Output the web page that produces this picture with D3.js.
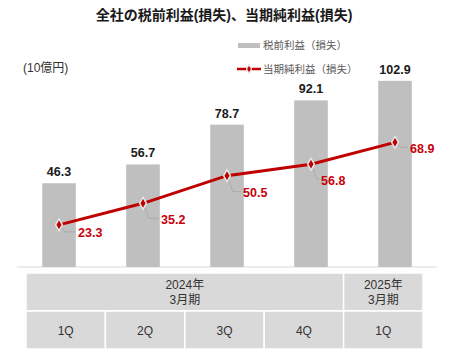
<!DOCTYPE html>
<html>
<head>
<meta charset="utf-8">
<script src="https://cdn.jsdelivr.net/npm/d3@7"></script>
<style>
  body { margin: 0; background: #fff; }
  svg { display: block; font-family: "Liberation Sans", "Noto Sans CJK JP", sans-serif; }
</style>
</head>
<body>
<script>
// --- data ---
const quarters = ["1Q", "2Q", "3Q", "4Q", "1Q "];
const pretaxProfit = [46.3, 56.7, 78.7, 92.1, 102.9];
const netProfit = [23.3, 35.2, 50.5, 56.8, 68.9];
const fiscalYears = ["2024年", "2025年"];
const fiscalSpan = [4, 1];
const legendNames = ["税前利益（損失）", "当期純利益（損失）"];

// label nudges for the red labels (layout only)
const nudge = [[19, 8], [18, 16], [16, 17], [10, 16], [15, 6]];

const width = 450, height = 352;
const svg = d3.select("body").append("svg")
  .attr("width", width)
  .attr("height", height);

const x = d3.scaleBand().domain(quarters).range([17, 437]).paddingInner(0.6).paddingOuter(0.3);
const y = d3.scaleLinear().domain([0, 110]).range([267, 68]);
const cx = i => x(quarters[i]) + x.bandwidth() / 2;

// title
svg.append("text")
  .attr("x", 224).attr("y", 20)
  .attr("text-anchor", "middle")
  .attr("font-size", 14).attr("font-weight", "bold")
  .attr("fill", "#1a1a1a")
  .text("全社の税前利益(損失)、当期純利益(損失)");

// unit
svg.append("text")
  .attr("x", 23).attr("y", 72)
  .attr("font-size", 12).attr("fill", "#333")
  .text("(10億円)");

// legend
const lg = svg.append("g").attr("font-size", 10.5).attr("fill", "#595959");
lg.append("rect").attr("x", 238).attr("y", 43).attr("width", 22).attr("height", 5).attr("fill", "#bfbfbf");
lg.append("text").attr("x", 263).attr("y", 49).attr("fill", "#595959").text(legendNames[0]);
lg.append("line").attr("x1", 237).attr("x2", 261).attr("y1", 69).attr("y2", 69)
  .attr("stroke", "#c00000").attr("stroke-width", 2.5);
lg.append("path").attr("d", d3.symbol(d3.symbolDiamond, 22)())
  .attr("transform", "translate(249,69)")
  .attr("fill", "#c00000").attr("stroke", "#e6e6e6").attr("stroke-width", 1.2);
lg.append("text").attr("x", 263).attr("y", 73).attr("fill", "#595959").text(legendNames[1]);

// baseline
svg.append("line")
  .attr("x1", 17).attr("x2", 437).attr("y1", y(0)).attr("y2", y(0))
  .attr("stroke", "#d9d9d9").attr("stroke-width", 1);

// bars
svg.selectAll(".bar")
  .data(pretaxProfit)
  .enter().append("rect")
  .attr("class", "bar")
  .attr("x", (d, i) => x(quarters[i]))
  .attr("width", x.bandwidth())
  .attr("y", d => y(d))
  .attr("height", d => y(0) - y(d))
  .attr("fill", "#bfbfbf");

svg.selectAll(".bar-label")
  .data(pretaxProfit)
  .enter().append("text")
  .attr("class", "bar-label")
  .attr("x", (d, i) => cx(i))
  .attr("y", d => y(d) - 7)
  .attr("text-anchor", "middle")
  .attr("font-size", 12.5).attr("font-weight", "bold")
  .attr("fill", "#1a1a1a")
  .text(d => d.toFixed(1));

// leader lines
svg.selectAll(".leader")
  .data(netProfit)
  .enter().append("polyline")
  .attr("class", "leader")
  .attr("points", (d, i) => {
    const px = cx(i), py = y(d);
    const lx = px + nudge[i][0], ly = py + nudge[i][1];
    return [[px, py], [px + 6, ly - 1], [lx - 2, ly - 1]].map(p => p.join(",")).join(" ");
  })
  .attr("fill", "none").attr("stroke", "#a6a6a6").attr("stroke-width", 0.8);

// net profit line
const line = d3.line().x((d, i) => cx(i)).y(d => y(d)).curve(d3.curveLinear);
svg.append("path")
  .datum(netProfit)
  .attr("d", line)
  .attr("fill", "none")
  .attr("stroke", "#c00000")
  .attr("stroke-width", 3);

svg.selectAll(".marker")
  .data(netProfit)
  .enter().append("path")
  .attr("class", "marker")
  .attr("d", d3.symbol(d3.symbolDiamond, 40)())
  .attr("transform", (d, i) => `translate(${cx(i)},${y(d)})`)
  .attr("fill", "#c00000")
  .attr("stroke", "#e6e6e6").attr("stroke-width", 1.5);

svg.selectAll(".net-label")
  .data(netProfit)
  .enter().append("text")
  .attr("class", "net-label")
  .attr("x", (d, i) => cx(i) + nudge[i][0])
  .attr("y", (d, i) => y(d) + nudge[i][1] + 4.5)
  .attr("font-size", 12.5).attr("font-weight", "bold")
  .attr("fill", "#c8000a")
  .text(d => d.toFixed(1));

// table under the chart
const tx = d3.scaleBand().domain(quarters).range([26, 423]);
const row1 = 273, row2 = 311, row3 = 349;
const tbl = svg.append("g").attr("font-size", 12).attr("fill", "#333");

let start = 0;
fiscalYears.forEach((fy, k) => {
  const x0 = tx(quarters[start]);
  const x1 = tx(quarters[start + fiscalSpan[k] - 1]) + tx.bandwidth();
  tbl.append("rect")
    .attr("x", x0).attr("y", row1).attr("width", x1 - x0).attr("height", row2 - row1)
    .attr("fill", "#d9d9d9").attr("stroke", "#fff").attr("stroke-width", 1.5);
  const t = tbl.append("text").attr("text-anchor", "middle").attr("fill", "#333");
  t.append("tspan").attr("x", (x0 + x1) / 2).attr("y", row1 + 16).text(fy);
  t.append("tspan").attr("x", (x0 + x1) / 2).attr("y", row1 + 31).text("3月期");
  start += fiscalSpan[k];
});

quarters.forEach(q => {
  tbl.append("rect")
    .attr("x", tx(q)).attr("y", row2).attr("width", tx.bandwidth()).attr("height", row3 - row2)
    .attr("fill", "#d9d9d9").attr("stroke", "#fff").attr("stroke-width", 1.5);
  tbl.append("text")
    .attr("x", tx(q) + tx.bandwidth() / 2).attr("y", (row2 + row3) / 2 + 4.5)
    .attr("text-anchor", "middle").attr("fill", "#333")
    .text(q.trim());
});
</script>
</body>
</html>
